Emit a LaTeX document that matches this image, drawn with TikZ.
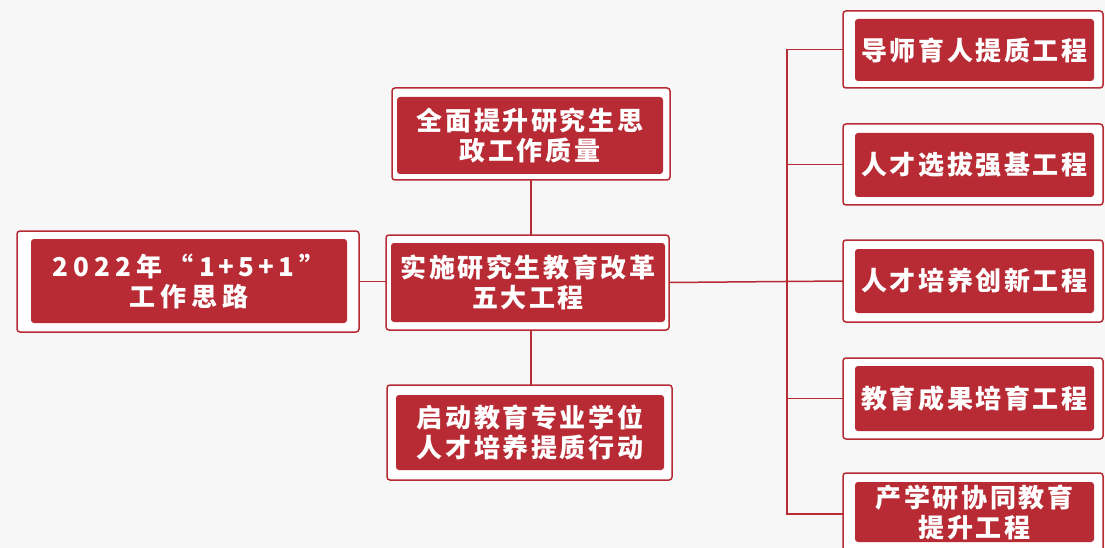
\documentclass[tikz,border=0pt]{standalone}
\usepackage{fontspec}
\newfontfamily\cjk{Noto Sans CJK SC}[LetterSpace=10]
\newfontfamily\cjkwide{Noto Sans CJK SC}[LetterSpace=20]
\definecolor{cred}{RGB}{184,43,52}
\definecolor{bg}{RGB}{247,247,247}
\begin{document}
\begin{tikzpicture}[x=1pt,y=-1pt,
 outerbox/.style={draw=cred, line width=1.5pt, fill=white, rounded corners=3pt, inner sep=0pt, outer sep=0pt},
 innerbox/.style={fill=cred, rounded corners=3pt, text=white, font=\cjk\bfseries\fontsize{26}{30}\selectfont, align=center, inner sep=0pt},
 widetext/.style={font=\cjkwide\bfseries\fontsize{26}{30}\selectfont},
 link/.style={draw=cred, line width=1.5pt}]
\useasboundingbox (0,0) rectangle (1105,548);
\clip (0,0) rectangle (1105,548);
\fill[bg] (0,0) rectangle (1105,548);
% left
\node[outerbox, minimum width=342pt, minimum height=101pt] (lo) at (188,281.5) {};
\node[innerbox, widetext, minimum width=316pt, minimum height=84pt] (li) at (189,281) {2022年“1\hspace{4pt}+\hspace{4pt}5\hspace{4pt}+\hspace{4pt}1”\\工作思路};
% top
\node[outerbox, minimum width=278pt, minimum height=92pt] (to) at (531,134) {};
\node[innerbox, minimum width=266pt, minimum height=77pt] (ti) at (530,135.5) {全面提升研究生思\\政工作质量};
% center
\node[outerbox, minimum width=283pt, minimum height=95pt] (co) at (527.5,282.5) {};
\node[innerbox, minimum width=274pt, minimum height=79pt] (ci) at (528,282.5) {实施研究生教育改革\\五大工程};
% bottom
\node[outerbox, minimum width=285pt, minimum height=95pt] (bo) at (529.5,432.5) {};
\node[innerbox, minimum width=268pt, minimum height=75pt] (bi) at (530,432.5) {启动教育专业学位\\人才培养提质行动};
% right
\node[outerbox, minimum width=260pt, minimum height=77pt] (r1o) at (973,49.5) {};
\node[innerbox, minimum width=239pt, minimum height=62pt] (r1i) at (974.5,50) {导师育人提质工程};
\node[outerbox, minimum width=260pt, minimum height=81pt] (r2o) at (973,164.5) {};
\node[innerbox, minimum width=239pt, minimum height=64pt] (r2i) at (974.5,165) {人才选拔强基工程};
\node[outerbox, minimum width=260pt, minimum height=82pt] (r3o) at (973,281) {};
\node[innerbox, minimum width=239pt, minimum height=64pt] (r3i) at (974.5,281) {人才培养创新工程};
\node[outerbox, minimum width=260pt, minimum height=81pt] (r4o) at (973,398.5) {};
\node[innerbox, minimum width=239pt, minimum height=65pt] (r4i) at (974.5,398.5) {教育成果培育工程};
\node[outerbox, minimum width=260pt, minimum height=82pt] (r5o) at (973,514) {};
\node[innerbox, minimum width=239pt, minimum height=60pt] (r5i) at (974.5,512) {产学研协同教育\\提升工程};
% connectors
\coordinate (trunk) at (787,281);
\draw[link] (lo.east) -- (lo.east -| co.west);
\draw[link] (to.south) -- (to.south |- co.north);
\draw[link] (co.south -| to.south) -- (to.south |- bo.north);
\draw[link] (co.east) -- (r3o.west);
\draw[link] (r1o.west) -- (r1o.west -| trunk) -- (trunk |- r5o.west) -- (r5o.west);
\draw[link] (r2o.west) -- (r2o.west -| trunk);
\draw[link] (r4o.west) -- (r4o.west -| trunk);
\end{tikzpicture}
\end{document}
